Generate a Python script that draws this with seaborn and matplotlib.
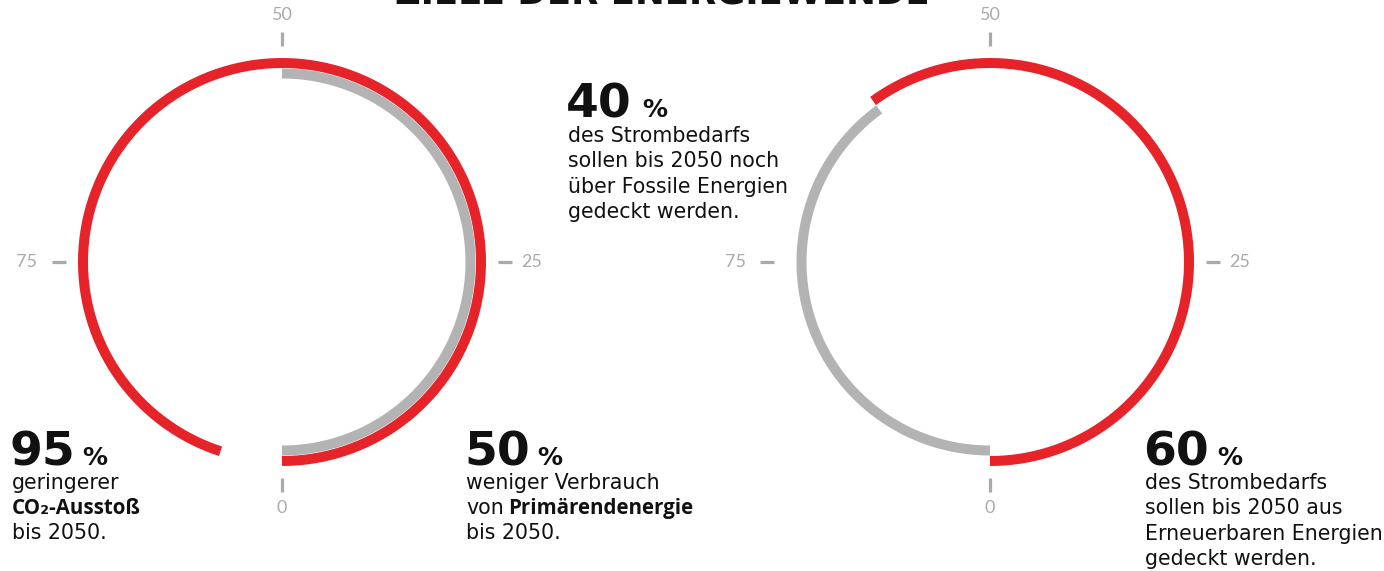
import numpy as np
import matplotlib
matplotlib.use("Agg")
import matplotlib.pyplot as plt
import seaborn as sns

# ---- data ----
tick_values = [0, 25, 50, 75]
tick_labels = ["0", "25", "50", "75"]
left_red = 95      # geringerer CO2-Ausstoss
left_gray = 50     # weniger Verbrauch von Primaerenergie
right_red = 60     # Erneuerbare Energien
right_gray = 40    # Fossile Energien

RED = "#e52329"
GRAY = "#b3b3b3"
TICK = "#aaaaaa"
TXT = "#111111"

sns.set_theme(style="white")
plt.rcParams["font.family"] = ["Lato", "DejaVu Sans"]

W, H = 1384, 571
fig = plt.figure(figsize=(W / 100, H / 100), dpi=100)
ax = fig.add_axes([0, 0, 1, 1])
ax.set_xlim(0, W)
ax.set_ylim(H, 0)
ax.set_axis_off()

RMAX = 260
R_OUT = 199
R_IN = 188.5
LW = 7.2
label_r = [246, 250, 247, 255]


def polar_at(cx, cy):
    pax = fig.add_axes([(cx - RMAX) / W, (H - cy - RMAX) / H, 2 * RMAX / W, 2 * RMAX / H],
                       projection="polar")
    pax.set_theta_zero_location("S")
    pax.set_theta_direction(1)
    pax.patch.set_alpha(0)
    return pax


def arc(pax, start, end, r, color):
    th = np.linspace(start, end, 300) / 100 * 2 * np.pi
    sns.lineplot(x=th, y=np.full_like(th, r), ax=pax, color=color, linewidth=LW,
                 estimator=None, sort=False, solid_capstyle="butt")


def ticks(pax):
    for v, lab, lr in zip(tick_values, tick_labels, label_r):
        t = v / 100 * 2 * np.pi
        pax.plot([t, t], [216, 230], color=TICK, linewidth=2.3, solid_capstyle="butt")
        pax.text(t, lr, lab, color=TICK, fontsize=13, ha="center", va="center",
                 family=["Lato", "DejaVu Sans"])


# left ring
p1 = polar_at(282, 262)
arc(p1, 0, left_red, R_OUT, RED)
arc(p1, 0, left_gray, R_IN, GRAY)
ticks(p1)
p1.set_ylim(0, RMAX)
p1.set_axis_off()

# right ring
p2 = polar_at(990, 262)
arc(p2, 0, right_red, R_OUT, RED)
arc(p2, right_red, right_red + right_gray, R_IN, GRAY)
ticks(p2)
p2.set_ylim(0, RMAX)
p2.set_axis_off()

# title (cut at top, as in the reference)
ax.text(662, 4, "ZIELE DER ENERGIEWENDE", fontsize=25.6, fontweight="bold", color=TXT,
        ha="center", va="baseline", family=["DejaVu Sans"])

REG = ["DejaVu Sans"]
BLD = ["Open Sans", "DejaVu Sans"]
NUM = ["DejaVu Sans"]
BODY = 14.8


def big(x, y, num, pct_dx):
    ax.text(x, y, num, fontsize=34, fontweight="bold", color=TXT,
            ha="left", va="baseline", family=NUM)
    ax.text(x + pct_dx, y, "%", fontsize=18, fontweight="bold",
            color=TXT, ha="left", va="baseline", family=NUM)


def line(x, y, s, bold=False):
    ax.text(x, y, s, fontsize=BODY, fontweight="bold" if bold else "normal", color=TXT,
            ha="left", va="baseline", family=BLD if bold else REG)


# 95 %
big(10, 465, "95", 72)
line(12, 489, "geringerer")
line(12, 514, "CO₂-Ausstoß", bold=True)
line(12, 539, "bis 2050.")

# 50 %
big(464, 465, "50", 73)
line(466, 489, "weniger Verbrauch")
line(466, 514, "von")
line(508, 514, "Primärendenergie", bold=True)
line(466, 539, "bis 2050.")

# 40 %
big(566, 117, "40", 76)
line(568, 142, "des Strombedarfs")
line(568, 167, "sollen bis 2050 noch")
line(568, 193, "über Fossile Energien")
line(568, 218, "gedeckt werden.")

# 60 %
big(1143, 465, "60", 74)
line(1145, 489, "des Strombedarfs")
line(1145, 514, "sollen bis 2050 aus")
line(1145, 540, "Erneuerbaren Energien")
line(1145, 565, "gedeckt werden.")

fig.savefig("out.png", dpi=100)
